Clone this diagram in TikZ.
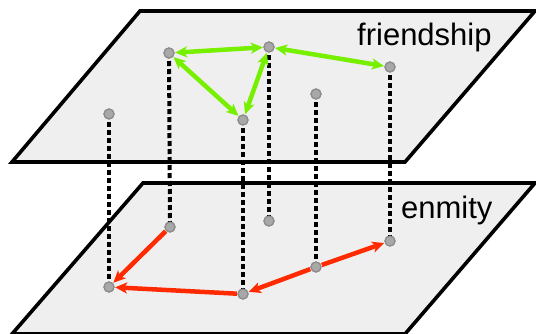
\documentclass[tikz,border=0pt]{standalone}
\usepackage{fontspec}
\setmainfont{Liberation Sans}
\usetikzlibrary{arrows.meta}
\definecolor{planefill}{HTML}{EFEFEF}
\definecolor{fgreen}{HTML}{77F000}
\definecolor{ered}{HTML}{FF2A00}
\definecolor{nodefill}{HTML}{A8A8A8}
\definecolor{nodeedge}{HTML}{8C8C8C}
\tikzset{
  plane/.style={fill=planefill, draw=black, line width=3.6pt, line join=miter},
  vert/.style={circle, fill=nodefill, draw=nodeedge, line width=1.2pt, minimum size=10pt, inner sep=0pt},
  link/.style={black, line width=4pt, dash pattern=on 5pt off 3pt},
  friend/.style={fgreen, line width=4.5pt, {Stealth[length=12pt,width=11pt,inset=3pt]}-{Stealth[length=12pt,width=11pt,inset=3pt]}, shorten <=0.5pt, shorten >=0.5pt},
  enemy/.style={ered, line width=4.5pt, -{Stealth[length=12pt,width=11pt,inset=3pt]}, shorten >=0.5pt, shorten <=0.5pt},
  label/.style={font=\fontsize{31}{31}\selectfont, inner sep=0pt, anchor=base west}
}
\begin{document}
\begin{tikzpicture}[x=1pt, y=-1pt]
\useasboundingbox (0,0) rectangle (536,333);
\clip (0,0) rectangle (536,333);
% planes
\path[plane] (12,162) -- (405,162) -- (535,11) -- (140,11) -- cycle;
\path[plane] (12,334) -- (405,334) -- (535,183) -- (143,183) -- cycle;
% labels
\node[label] (tf) at (357,45) {friendship};
\node[label] (te) at (401,218) {enmity};
% top nodes
\node[vert] (a) at (109,114) {};
\node[vert] (b) at (169,53) {};
\node[vert] (c) at (269,47) {};
\node[vert] (d) at (243,120) {};
\node[vert] (e) at (316,94) {};
\node[vert] (f) at (390,67) {};
% bottom nodes
\node[vert] (a2) at (109,287) {};
\node[vert] (b2) at (170,227) {};
\node[vert] (c2) at (269,221) {};
\node[vert] (d2) at (243,294) {};
\node[vert] (e2) at (316,267) {};
\node[vert] (f2) at (390,241) {};
% dashed links
\foreach \u/\v in {a/a2,b/b2,c/c2,d/d2,e/e2,f/f2}
  \draw[link] (\u.center) -- (\v.center);
% friendship arrows
\draw[friend] (b) -- (c);
\draw[friend] (c) -- (f);
\draw[friend] (b) -- (d);
\draw[friend] (c) -- (d);
% enmity arrows
\draw[enemy] (b2) -- (a2);
\draw[enemy] (d2) -- (a2);
\draw[enemy] (e2) -- (d2);
\draw[enemy] (e2) -- (f2);
% redraw nodes on top
\foreach \n in {a,b,c,d,e,f,a2,b2,c2,d2,e2,f2}
  \node[vert] at (\n) {};
\end{tikzpicture}
\end{document}
